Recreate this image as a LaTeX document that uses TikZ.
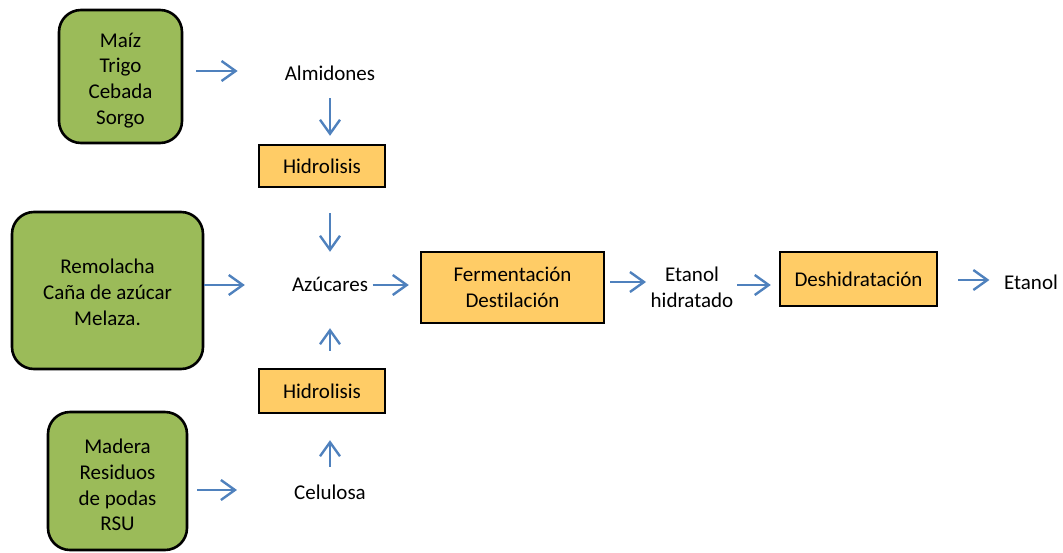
\documentclass[tikz,border=0pt]{standalone}
\usepackage{fontspec}
\setmainfont[Ligatures=NoCommon]{Carlito}
\usetikzlibrary{arrows.meta}
\definecolor{gfill}{HTML}{9BBB59}
\definecolor{ofill}{HTML}{FFCC66}
\definecolor{ablue}{HTML}{4F81BD}
\tikzset{
  greenbox/.style={draw=black, line width=2.6pt, fill=gfill, rounded corners=22pt, inner sep=0pt},
  gtext/.style={align=center, inner sep=0pt, font=\fontsize{21}{25.8}\selectfont},
  procbox/.style={draw=black, line width=2.4pt, fill=ofill, align=center, inner sep=0pt, font=\fontsize{21}{25.8}\selectfont},
  plain/.style={inner sep=0pt, text height=14pt, text depth=4pt, font=\fontsize{21}{25.8}\selectfont},
  plainml/.style={inner sep=0pt, align=center, font=\fontsize{21}{25.8}\selectfont},
  arr/.style={draw=ablue, line width=2.4pt, -{Straight Barb[length=14pt,width=20pt]}},
}
\begin{document}
\begin{tikzpicture}[x=1pt,y=-1pt]
\useasboundingbox (0,0) rectangle (1063,552);
% green source boxes
\node[greenbox, minimum width=123pt, minimum height=133pt] (g1) at (120.5,76.5) {};
\node[gtext] (g1t) at ([yshift=-4pt]g1.center) {Maíz\\Trigo\\Cebada\\Sorgo};
\node[greenbox, minimum width=191pt, minimum height=157pt] (g2) at (107.5,290.5) {};
\node[gtext] (g2t) at ([yshift=-2pt]g2.center) {Remolacha\\Caña de azúcar\\Melaza.};
\node[greenbox, minimum width=139pt, minimum height=138pt] (g3) at (117.5,481) {};
\node[gtext] (g3t) at ([yshift=-4pt]g3.center) {Madera\\Residuos\\de podas\\RSU};
% process boxes
\node[procbox, minimum width=126pt, minimum height=42pt] (h1) at (322,166) {Hidrolisis};
\node[procbox, minimum width=126pt, minimum height=44pt] (h2) at (322,391) {Hidrolisis};
\node[procbox, minimum width=183pt, minimum height=71pt] (f) at (512.5,287.5) {Fermentación\\Destilación};
\node[procbox, minimum width=157pt, minimum height=54pt] (d) at (858.5,279) {Deshidratación};
% plain labels
\node[plain] (alm) at (330,75) {Almidones};
\node[plain] (azu) at (330,286) {Azúcares};
\node[plain] (cel) at (330,494) {Celulosa};
\node[plainml] (eh) at (692,287) {Etanol\\hidratado};
\node[plain] (et) at (1031,284) {Etanol};
% connectors
\draw[arr, shorten <=13pt, shorten >=47pt] ([yshift=4pt]g1.east |- alm.west) -- ([yshift=4pt]alm.west);
\draw[arr, shorten <=14pt, shorten >=8pt] (alm.south) -- (h1.north -| alm.south);
\draw[arr, shorten <=25pt, shorten >=25pt] (h1.south -| azu.north) -- (azu.north);
\draw[arr, shorten <=17pt, shorten >=33pt] (h2.north -| azu.south) -- (azu.south);
\draw[arr, shorten <=18pt, shorten >=26pt] (cel.north) -- (h2.south -| cel.north);
\draw[arr, shorten >=47pt] ([yshift=1pt]g2.east |- azu.west) -- ([yshift=1pt]azu.west);
\draw[arr, shorten <=4.5pt, shorten >=11pt] ([yshift=1pt]azu.east) -- ([yshift=1pt]f.west |- azu.east);
\draw[arr, shorten <=9pt, shorten >=57pt] ([yshift=4pt]g3.east |- cel.west) -- ([yshift=4pt]cel.west);
\draw[arr, shorten <=5pt, shorten >=4.5pt] ([yshift=5pt]f.east |- eh.west) -- ([yshift=5pt]eh.west);
\draw[arr, shorten <=3.5pt, shorten >=8pt] ([yshift=2pt]eh.east) -- ([yshift=2pt]d.west |- eh.east);
\draw[arr, shorten <=20pt, shorten >=14.5pt] ([yshift=4pt]d.east |- et.west) -- ([yshift=4pt]et.west);
\end{tikzpicture}
\end{document}
